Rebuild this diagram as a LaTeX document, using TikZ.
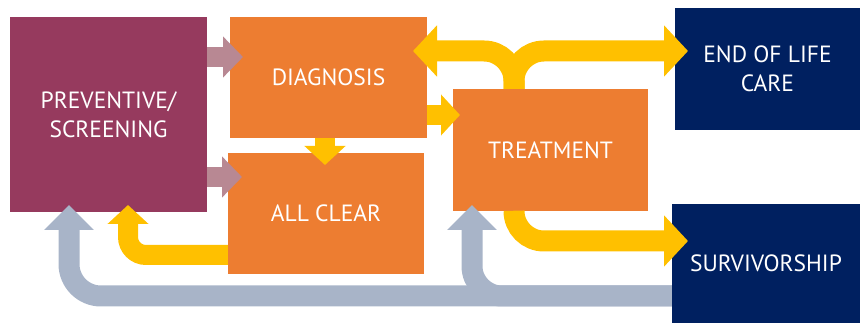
\documentclass[tikz,border=0pt]{standalone}
\usepackage{fontspec}
\setmainfont{PT Sans}
\usetikzlibrary{arrows.meta}
\definecolor{maroon}{HTML}{963A5E}
\definecolor{orng}{HTML}{ED7D31}
\definecolor{yell}{HTML}{FFC000}
\definecolor{navy}{HTML}{002060}
\definecolor{pale}{HTML}{B88893}
\definecolor{greyb}{HTML}{A8B4C8}
\tikzset{
  box/.style={rectangle, inner sep=0pt, text=white, align=center, font=\fontsize{23.5}{29}\selectfont},
  palearrow/.style={draw=pale, line width=20pt, -{Triangle[width=40pt,length=20pt]}},
  yarrow/.style={draw=yell, line width=21pt, -{Triangle[width=50pt,length=24pt]}},
  ysmall/.style={draw=yell, line width=20pt, -{Triangle[width=40pt,length=19pt]}},
  garrow/.style={draw=greyb, line width=21pt, -{Triangle[width=48pt,length=25pt]}},
}
\begin{document}
\begin{tikzpicture}[x=1pt,y=-1pt]
\useasboundingbox (0,0) rectangle (860,323);
% boxes
\node[box, fill=maroon, minimum width=197pt, minimum height=195pt] (prev) at (108.5,114.5) {PREVENTIVE/\\SCREENING};
\node[box, fill=orng, minimum width=197pt, minimum height=121pt] (diag) at (328.5,77.5) {DIAGNOSIS};
\node[box, fill=orng, minimum width=196pt, minimum height=121pt] (clear) at (326,213.5) {ALL CLEAR};
\node[box, fill=orng, minimum width=195pt, minimum height=122pt] (treat) at (550.5,150) {TREATMENT};
\node[box, fill=navy, minimum width=185pt, minimum height=122pt] (eol) at (767.5,69) {END OF LIFE\\CARE};
\node[box, fill=navy, minimum width=188pt, minimum height=119pt] (surv) at (766,263.5) {SURVIVORSHIP};
% coordinates
\coordinate (p1) at (243,57);
\coordinate (p2) at (242,177);
\coordinate (d1) at (325,165);
\coordinate (d2) at (460,115);
\coordinate (j) at (514,51);
\coordinate (tl) at (413,51);
\coordinate (tr) at (688,51);
\coordinate (b1) at (514,241);
\coordinate (br) at (688,241);
\coordinate (c1) at (128,255);
\coordinate (c2) at (128,205);
\coordinate (g1) at (472,296);
\coordinate (g2) at (472,205);
\coordinate (g3) at (69,296);
\coordinate (g4) at (69,205);
% pale arrows
\draw[palearrow] (prev.east |- p1) -- (p1);
\draw[palearrow] (prev.east |- p2) -- (p2);
% yellow arrows
\draw[ysmall] (diag.south -| d1) -- (d1);
\draw[ysmall] (diag.east |- d2) -- (d2);
\draw[yarrow, rounded corners=30pt] (treat.north -| j) -- (j) -- (tl);
\draw[yarrow, rounded corners=30pt] (treat.north -| j) -- (j) -- (tr);
\draw[yarrow, rounded corners=30pt] (treat.south -| b1) -- (b1) -- (br);
\draw[ysmall, rounded corners=18pt] (clear.west |- c1) -- (c1) -- (c2);
% grey arrows
\draw[garrow, rounded corners=32pt] (surv.west |- g1) -- (g3) -- (g4);
\draw[garrow, rounded corners=30pt] (surv.west |- g1) -- (g1) -- (g2);
\end{tikzpicture}
\end{document}
